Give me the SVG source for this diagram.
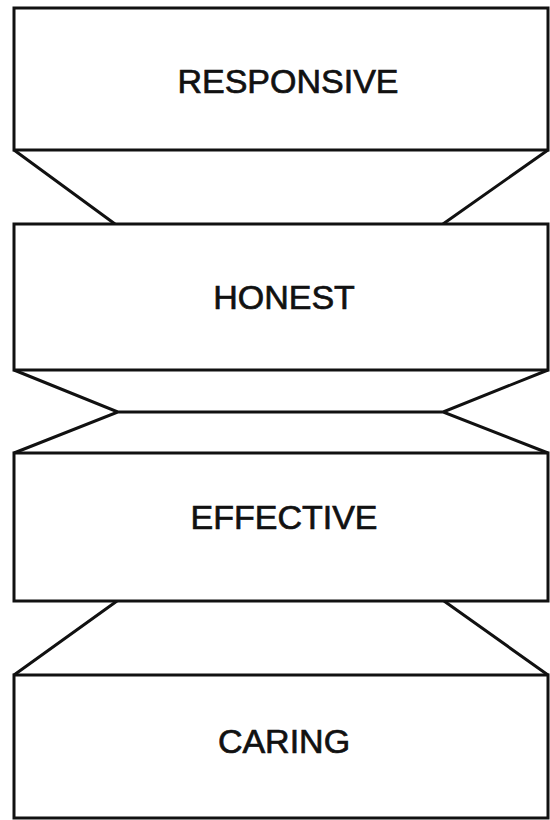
<svg xmlns="http://www.w3.org/2000/svg" width="550" height="820" viewBox="0 0 550 820">
<style>
.box{fill:#fff;stroke:#111;stroke-width:3}
.ln{fill:none;stroke:#111;stroke-width:3;stroke-linejoin:miter}
.lbl{font-family:"Liberation Sans",Arial,sans-serif;font-size:34px;fill:#111;stroke:#111;stroke-width:0.7;text-anchor:middle}
</style>
<rect width="550" height="820" fill="#fff"/>
<g id="connectors">
<path class="ln" d="M14,150 L115,224 M548,150 L443,224"/>
<path class="ln" d="M14,370 L118,412 L14,453 M548,370 L443,412 L548,453 M118,412 L443,412"/>
<path class="ln" d="M117,601 L14,675 M444,601 L548,675"/>
</g>
<g id="responsive">
<rect class="box" x="14" y="8" width="534" height="142"/>
<text class="lbl" x="288" y="93">RESPONSIVE</text>
</g>
<g id="honest">
<rect class="box" x="14" y="224" width="534" height="146"/>
<text class="lbl" x="284" y="309">HONEST</text>
</g>
<g id="effective">
<rect class="box" x="14" y="453" width="534" height="148"/>
<text class="lbl" x="284" y="529">EFFECTIVE</text>
</g>
<g id="caring">
<rect class="box" x="14" y="675" width="534" height="143"/>
<text class="lbl" x="284" y="753">CARING</text>
</g>
</svg>
